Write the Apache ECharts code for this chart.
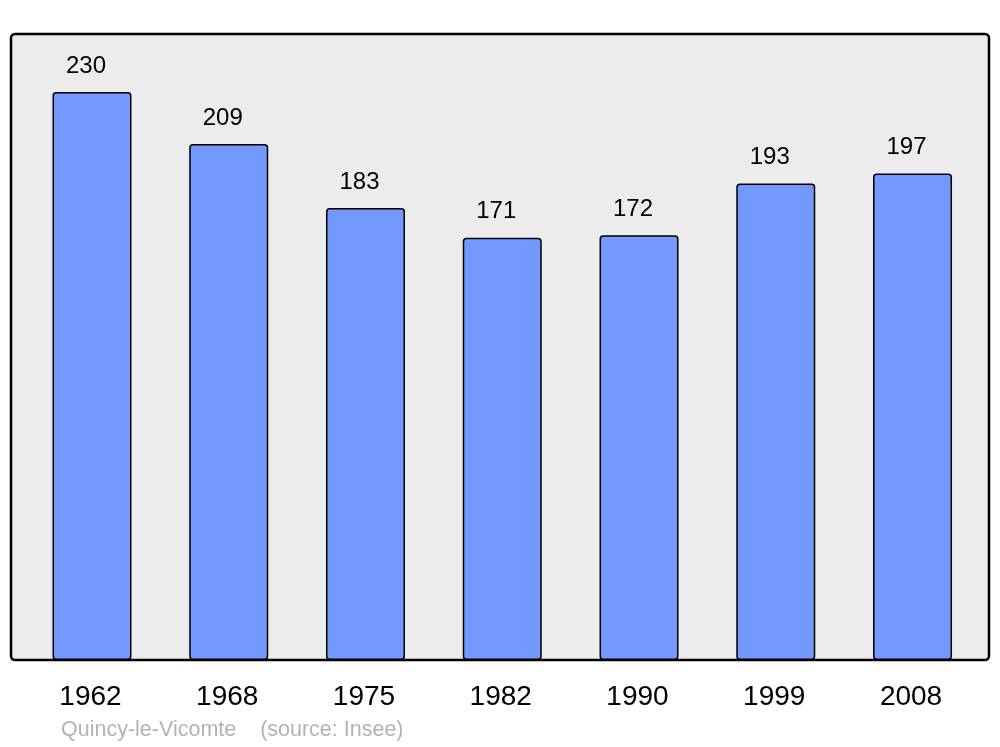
<!DOCTYPE html>
<html>
<head>
<meta charset="utf-8">
<script src="https://cdn.jsdelivr.net/npm/echarts@6/dist/echarts.min.js"></script>
<style>
html,body{margin:0;padding:0;background:#fff;}
#chart{width:1000px;height:747px;}
</style>
</head>
<body>
<div id="chart"></div>
<script>
const years = ['1962','1968','1975','1982','1990','1999','2008'];
const population = [230, 209, 183, 171, 172, 193, 197];
const captionText = 'Quincy-le-Vicomte    (source: Insee)';

const chart = echarts.init(document.getElementById('chart'), null, {renderer:'canvas'});
const FONT = '"Liberation Sans", Arial, sans-serif';
chart.setOption({
  animation: false,
  backgroundColor: '#ffffff',
  grid: { left: 23.6, top: 34, width: 957.3, height: 626, containLabel: false },
  xAxis: {
    type: 'category',
    data: years,
    axisLine: { show: false },
    axisTick: { show: false },
    axisLabel: { color: '#000', fontSize: 28, fontFamily: FONT, lineHeight: 28, margin: 23, padding: [0, 3, 0, 0] }
  },
  yAxis: {
    type: 'value', min: 0, max: 253.5,
    show: false, splitLine: { show: false }
  },
  graphic: [
    {
      type: 'rect', z: -10, silent: true,
      shape: { x: 11, y: 34, width: 978, height: 626, r: 4 },
      style: { fill: '#ececec', stroke: '#000', lineWidth: 2.5 }
    },
    {
      type: 'text', left: 61, top: 719, silent: true,
      style: { text: captionText, fill: '#b3b3b3', font: '21.5px ' + FONT }
    }
  ],
  series: [{
    type: 'bar',
    data: population,
    barWidth: 79,
    itemStyle: { color: '#7399ff', borderColor: '#000', borderWidth: 1.5, borderRadius: 3 },
    label: {
      show: true, position: 'top', distance: 14, offset: [-6, 0],
      color: '#000', fontSize: 24, lineHeight: 24, fontFamily: FONT
    }
  }]
});
</script>
</body>
</html>
